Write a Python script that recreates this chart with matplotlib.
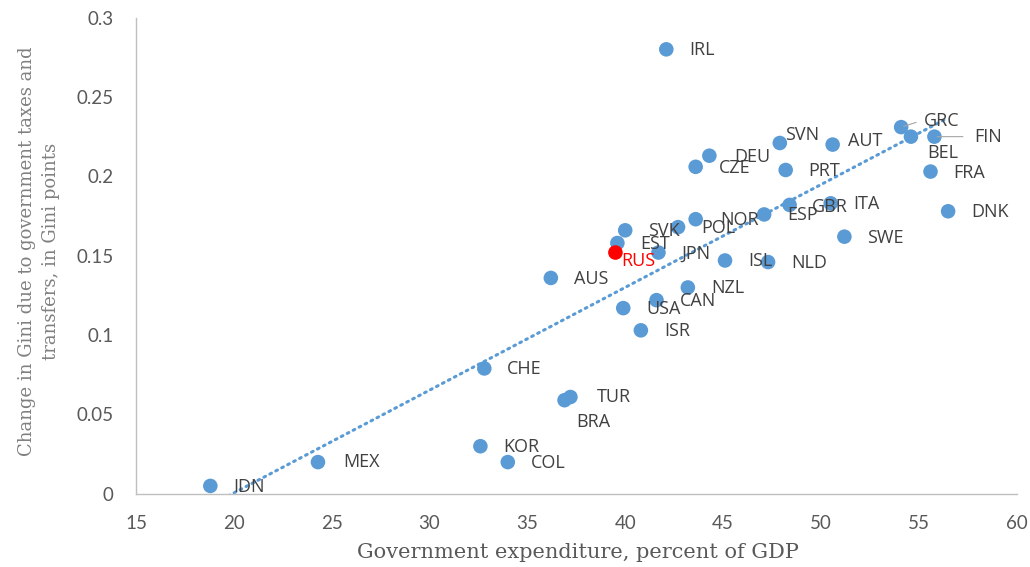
import numpy as np
import matplotlib.pyplot as plt

countries = ['IRL', 'GRC', 'BEL', 'FIN', 'SVN', 'AUT', 'DEU', 'CZE', 'PRT', 'FRA',
             'DNK', 'ITA', 'GBR', 'ESP', 'NOR', 'POL', 'SVK', 'EST', 'RUS', 'JPN',
             'ISL', 'NLD', 'SWE', 'AUS', 'NZL', 'CAN', 'USA', 'ISR', 'CHE', 'TUR',
             'BRA', 'KOR', 'COL', 'MEX', 'IDN']
gov_exp = [42.1, 54.1, 54.6, 55.8, 47.9, 50.6, 44.3, 43.6, 48.2, 55.6,
           56.5, 50.5, 48.4, 47.1, 43.6, 42.7, 40.0, 39.6, 39.5, 41.7,
           45.1, 47.3, 51.2, 36.2, 43.2, 41.6, 39.9, 40.8, 32.8, 37.2,
           36.9, 32.6, 34.0, 24.3, 18.8]
gini_change = [0.280, 0.231, 0.225, 0.225, 0.221, 0.220, 0.213, 0.206, 0.204, 0.203,
               0.178, 0.183, 0.182, 0.176, 0.173, 0.168, 0.166, 0.158, 0.152, 0.152,
               0.147, 0.146, 0.162, 0.136, 0.130, 0.122, 0.117, 0.103, 0.079, 0.061,
               0.059, 0.030, 0.020, 0.020, 0.005]

blue = '#5B9BD5'
label_color = '#404040'

# label offsets in pixels (right, up); most labels sit just to the right of the dot
nudges = {'GRC': (23, 6), 'BEL': (16, -16), 'FIN': (40, 0), 'SVN': (5, 8),
          'AUT': (15, 4), 'RUS': (6, -8), 'BRA': (12, -22), 'TUR': (26, 0),
          'GBR': (22, -2), 'MEX': (25, 0), 'NOR': (25, -1), 'DEU': (25, -1)}

fig = plt.figure(figsize=(10.3, 5.67), dpi=100)
ax = fig.add_axes([0.132, 0.129, 0.855, 0.84])

colors = ['#FF0000' if c == 'RUS' else blue for c in countries]
ax.scatter(gov_exp, gini_change, s=110, c=colors, edgecolors='none', zorder=3)

# linear trend line over the data range
coef = np.polyfit(gov_exp, gini_change, 1)
xs = np.linspace(min(gov_exp), max(gov_exp), 100)
ax.plot(xs, np.polyval(coef, xs), color=blue, lw=2.2, linestyle=(0, (0.6, 1.6)),
        dash_capstyle='round', zorder=2)

for c, x, y in zip(countries, gov_exp, gini_change):
    dx, dy = nudges.get(c, (23, -1))
    col = '#FF0000' if c == 'RUS' else label_color
    ax.annotate(c, (x, y), xytext=(dx, dy), textcoords='offset pixels',
                ha='left', va='center', fontsize=13, color=col,
                family='Open Sans', zorder=4)

# leader lines for the crowded top-right labels
ax.annotate('', (54.1, 0.231), xytext=(55.0, 0.2345),
            arrowprops=dict(arrowstyle='-', color='#A6A6A6', lw=0.8))
ax.annotate('', (55.8, 0.225), xytext=(57.4, 0.225),
            arrowprops=dict(arrowstyle='-', color='#A6A6A6', lw=0.8))

ax.set_xlim(15, 60)
ax.set_ylim(0, 0.3)
ax.set_xticks(range(15, 61, 5))
ax.set_yticks([0, 0.05, 0.1, 0.15, 0.2, 0.25, 0.3])
ax.set_yticklabels(['0', '0.05', '0.1', '0.15', '0.2', '0.25', '0.3'])
ax.tick_params(length=0, labelsize=13.5, colors='#595959')
ax.tick_params(axis='x', pad=15)
ax.tick_params(axis='y', pad=16)
for lab in ax.get_xticklabels() + ax.get_yticklabels():
    lab.set_family('Lato')

for side in ['top', 'right']:
    ax.spines[side].set_visible(False)
for side in ['left', 'bottom']:
    ax.spines[side].set_color('#BFBFBF')
    ax.spines[side].set_linewidth(1)

ax.set_xlabel('Government expenditure, percent of GDP', family='DejaVu Serif',
              fontsize=15, color='#595959')
ax.xaxis.set_label_coords(0.502, -0.103)
ax.set_ylabel('Change in Gini due to government taxes and\ntransfers, in Gini points',
              family='DejaVu Serif', fontsize=13, color='#808080',
              linespacing=1.45)
ax.yaxis.set_label_coords(-0.086, 0.51)

fig.savefig('out.png', dpi=100)
